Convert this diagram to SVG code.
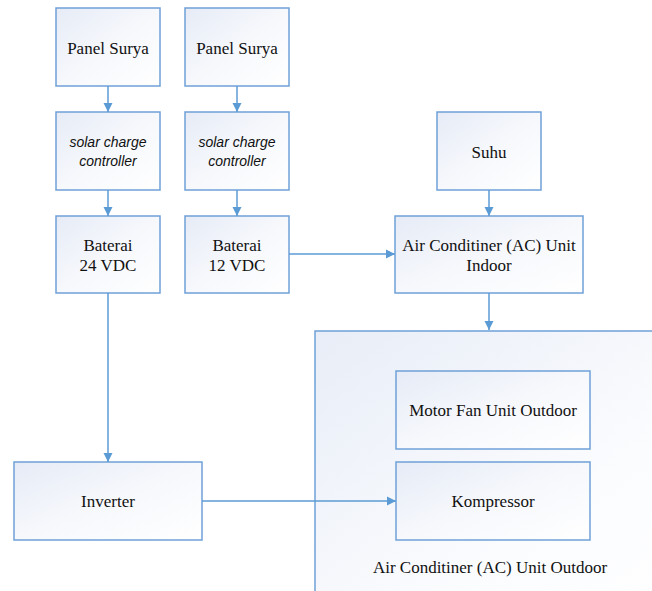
<svg xmlns="http://www.w3.org/2000/svg" width="652" height="591" viewBox="0 0 652 591">
<defs>
<linearGradient id="g" x1="0" y1="0" x2="1" y2="1">
<stop offset="0" stop-color="#e6ebf6"/>
<stop offset="0.5" stop-color="#f6f8fc"/>
<stop offset="1" stop-color="#ffffff"/>
</linearGradient>
<linearGradient id="gc" x1="0" y1="0" x2="1" y2="1">
<stop offset="0" stop-color="#e8edf7"/>
<stop offset="0.6" stop-color="#fbfcfe"/>
<stop offset="1" stop-color="#ffffff"/>
</linearGradient>
<marker id="ah" markerWidth="10" markerHeight="10" refX="9" refY="5" orient="auto" markerUnits="userSpaceOnUse">
<path d="M0,0.5 L9,5 L0,9.5 Z" fill="#5b9bd5"/>
</marker>
<style>
.box{fill:url(#g);stroke:#6fa1d8;stroke-width:1.5}
.t{font-family:"Liberation Serif","Times New Roman",serif;font-size:17px;fill:#111;text-anchor:middle}
.i{font-family:"Liberation Sans",Arial,sans-serif;font-size:14px;font-style:italic;fill:#111;text-anchor:middle}
.c{fill:none;stroke:#5b9bd5;stroke-width:1.5;marker-end:url(#ah)}
</style>
</defs>
<g id="outdoor">
<rect x="315" y="331" width="400" height="300" fill="url(#gc)" stroke="#6fa1d8" stroke-width="1.5"/>
<text class="t" x="490" y="573">Air Conditiner (AC) Unit Outdoor</text>
</g>
<g id="panel1"><rect class="box" x="56" y="8" width="104" height="78"/><text class="t" x="108" y="54">Panel Surya</text></g>
<g id="panel2"><rect class="box" x="185" y="8" width="104" height="78"/><text class="t" x="237" y="54">Panel Surya</text></g>
<g id="scc1"><rect class="box" x="56" y="112" width="104" height="78"/><text class="i" x="108" y="147">solar charge</text><text class="i" x="108" y="166">controller</text></g>
<g id="scc2"><rect class="box" x="185" y="112" width="104" height="78"/><text class="i" x="237" y="147">solar charge</text><text class="i" x="237" y="166">controller</text></g>
<g id="bat24"><rect class="box" x="56" y="216" width="104" height="77"/><text class="t" x="108" y="251">Baterai</text><text class="t" x="108" y="271">24 VDC</text></g>
<g id="bat12"><rect class="box" x="185" y="216" width="104" height="77"/><text class="t" x="237" y="251">Baterai</text><text class="t" x="237" y="271">12 VDC</text></g>
<g id="suhu"><rect class="box" x="437" y="112" width="104" height="78"/><text class="t" x="489" y="158">Suhu</text></g>
<g id="acindoor"><rect class="box" x="395" y="216" width="188" height="77"/><text class="t" x="489" y="251">Air Conditiner (AC) Unit</text><text class="t" x="489" y="271">Indoor</text></g>
<g id="motorfan"><rect class="box" x="396" y="371" width="194" height="78"/><text class="t" x="493" y="416">Motor Fan Unit Outdoor</text></g>
<g id="kompressor"><rect class="box" x="396" y="462" width="194" height="78"/><text class="t" x="493" y="507">Kompressor</text></g>
<g id="inverter"><rect class="box" x="14" y="462" width="188" height="78"/><text class="t" x="108" y="507">Inverter</text></g>
<g id="connectors">
<path class="c" d="M108,86 V112"/>
<path class="c" d="M237,86 V112"/>
<path class="c" d="M108,190 V216"/>
<path class="c" d="M237,190 V216"/>
<path class="c" d="M489,190 V216"/>
<path class="c" d="M289,254 H395"/>
<path class="c" d="M489,293 V330"/>
<path class="c" d="M108,293 V462"/>
<path class="c" d="M202,501 H396"/>
</g>
</svg>
